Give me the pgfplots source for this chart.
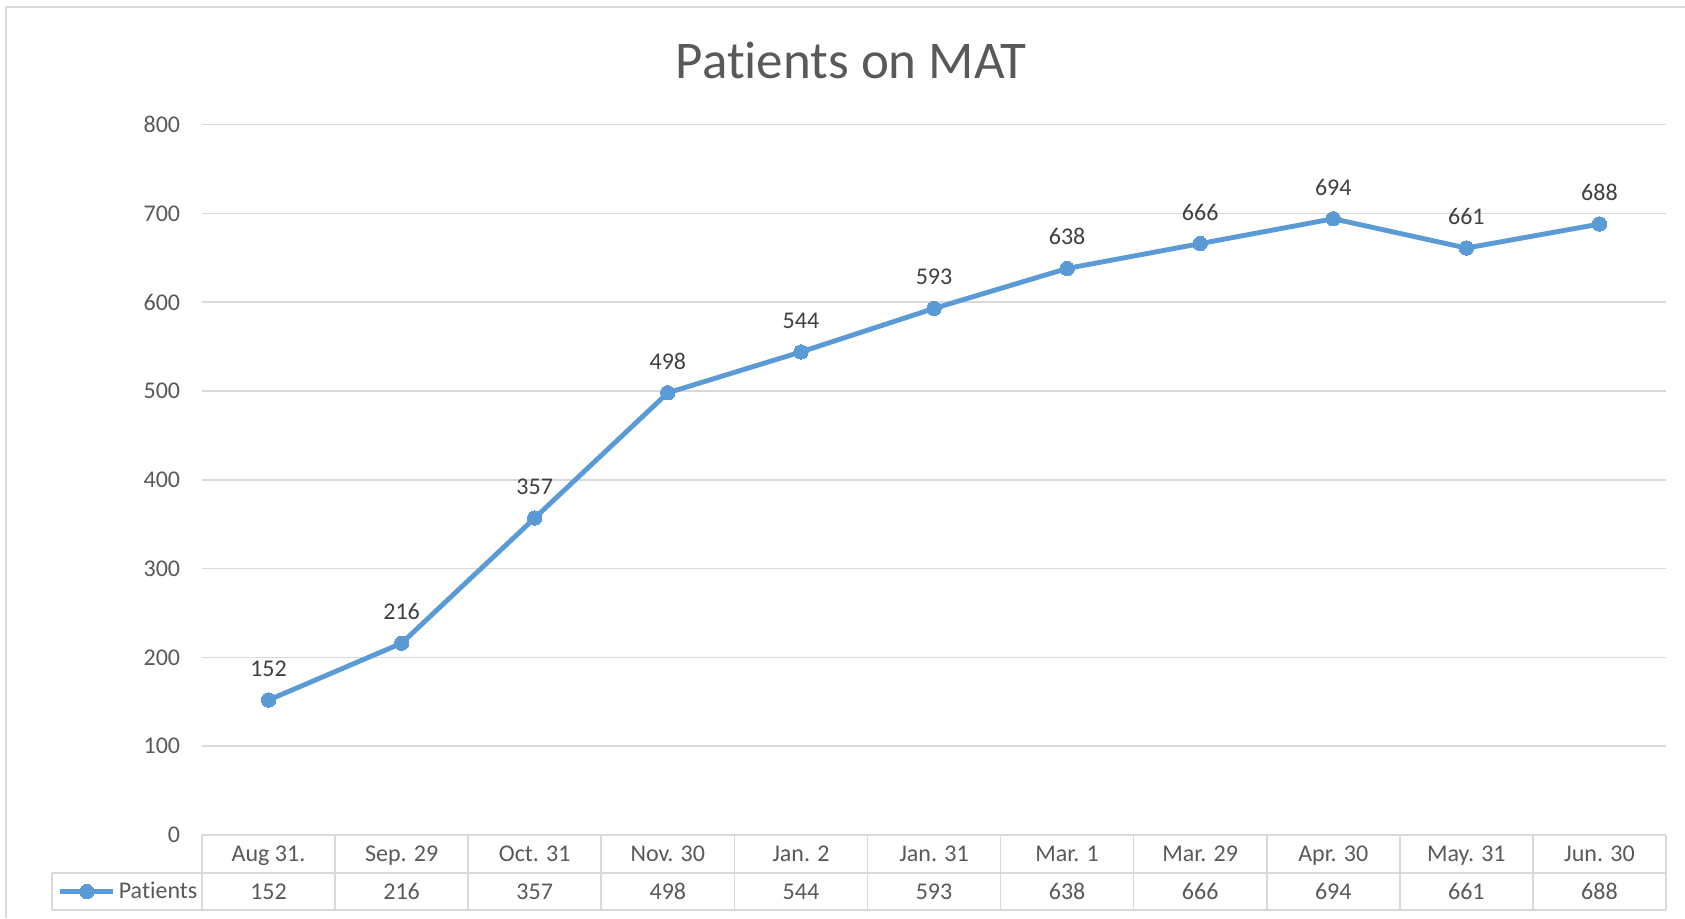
\documentclass[border=0pt]{standalone}
\usepackage{pgfplots}
\pgfplotsset{compat=1.18}
\usepackage{pgfplotstable}
\usepackage{fontspec}
\setmainfont[Ligatures=NoCommon]{Carlito}
\definecolor{lineblue}{HTML}{5B9BD5}
\definecolor{txt}{HTML}{595959}
\definecolor{lbl}{HTML}{404040}
\definecolor{gridc}{HTML}{D9D9D9}
\pgfplotstableread{
x y
0 152
1 216
2 357
3 498
4 544
5 593
6 638
7 666
8 694
9 661
10 688
}\datatable
\newcommand{\tfont}{\fontsize{12}{14}\selectfont}
\begin{document}
\begin{tikzpicture}
\path[use as bounding box] (0,0) rectangle (842.5pt,459pt);
\draw[gridc, line width=0.8pt] (3pt,0) -- (3pt,455.5pt) -- (842.5pt,455.5pt);
\begin{axis}[
  at={(101pt,41.5pt)}, anchor=south west, scale only axis,
  width=732pt, height=355.2pt,
  xmin=-0.5, xmax=10.5, ymin=0, ymax=800,
  ytick={0,100,...,800},
  xtick={0,...,10},
  xticklabels={Aug 31.,Sep. 29,Oct. 31,Nov. 30,Jan. 2,Jan. 31,Mar. 1,Mar. 29,Apr. 30,May. 31,Jun. 30},
  /pgf/number format/assume math mode=true,
  axis line style={draw=none},
  major tick length=0pt,
  ymajorgrids, grid style={gridc, line width=0.85pt},
  yticklabel style={font=\tfont, text=txt, inner sep=0pt, anchor=east, xshift=-10.75pt},
  xticklabel style={font=\tfont, text=txt, inner sep=0pt, anchor=base, yshift=-13.3pt},
  title={Patients on MAT},
  title style={font=\fontsize{26.5}{30}\selectfont, text=txt, at={(0.4434,1.0484)}, anchor=base, inner sep=0pt},
  clip=false,
  legend style={at={(-0.0984,-0.0795)}, anchor=west, draw=none, fill=none, inner sep=0pt, outer sep=0pt,
    font=\tfont, text=txt, nodes={inner sep=1.5pt}},
  legend cell align=left,
  legend image code/.code={\draw[mark repeat=2,mark phase=2,#1] plot coordinates {(0pt,0pt) (13.25pt,0pt) (26.5pt,0pt)};},
]
\addplot[lineblue, line width=2.45pt, mark=*, mark size=3.6pt, mark options={fill=lineblue, draw=lineblue, line width=0pt},
  nodes near coords, nodes near coords style={anchor=south, inner sep=0pt, yshift=11.7pt, font=\tfont, text=lbl}]
  table[x=x,y=y] {\datatable};
\addlegendentry{Patients}
\addplot[draw=none, mark=none, forget plot, point meta=explicit,
  nodes near coords, nodes near coords style={anchor=base, inner sep=0pt, yshift=-32pt, font=\tfont, text=txt}]
  table[x=x, y expr=0, meta=y] {\datatable};
\end{axis}
\foreach \k in {0,...,11} {
  \draw[gridc, line width=0.8pt] ({(101+66.545*\k)*1pt},41.5pt) -- ({(101+66.545*\k)*1pt},4pt);
}
\draw[gridc, line width=0.8pt] (26pt,22.5pt) -- (833pt,22.5pt);
\draw[gridc, line width=0.8pt] (26pt,4pt) -- (833pt,4pt);
\draw[gridc, line width=0.8pt] (26pt,22.5pt) -- (26pt,4pt);
\draw[gridc, line width=0.8pt] (101pt,41.5pt) -- (833pt,41.5pt);
\end{tikzpicture}
\end{document}
